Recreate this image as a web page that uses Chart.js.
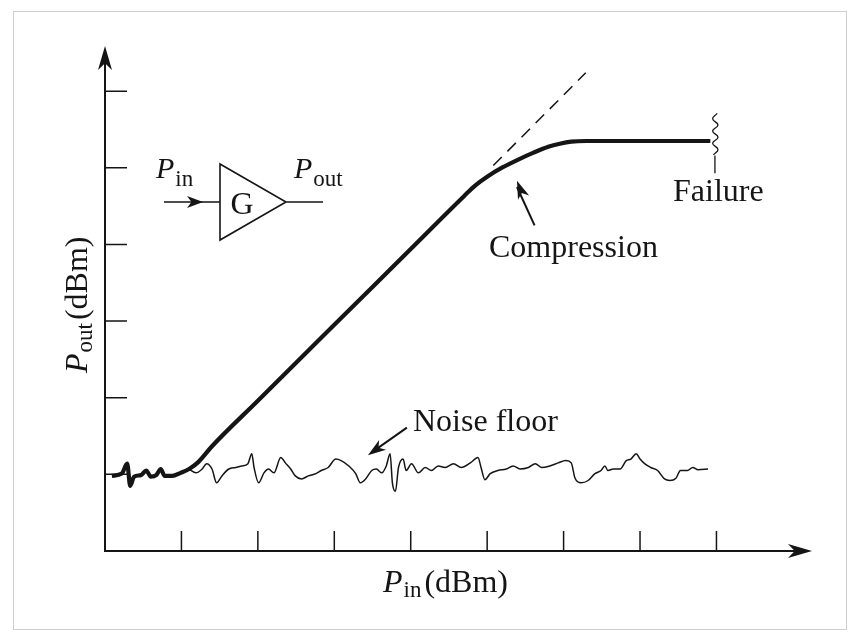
<!DOCTYPE html>
<html>
<head>
<meta charset="utf-8">
<script src="https://cdn.jsdelivr.net/npm/chart.js@4.4.1/dist/chart.umd.min.js"></script>
<style>
  html, body { margin: 0; padding: 0; background: #fff; }
  #wrap { width: 857px; height: 642px; }
</style>
</head>
<body>
<div id="wrap"><canvas id="c"></canvas></div>
<script>
// tick positions (no labels in the original)
const xTicks = [10, 20, 30, 40, 50, 60, 70, 80];
const yTicks = [10, 20, 30, 40, 50, 60];

// Pout vs Pin, thick curve
const outX = [0.9, 2.2, 2.9, 3.3, 3.8, 4.7, 5.4, 6.0, 6.7, 7.3, 7.8, 8.8, 9.9, 11.0,
  12.2, 14, 20, 30, 40, 47, 48.5, 50, 52, 54, 56, 58, 59.5, 61, 63, 79.2];
const outY = [9.8, 10.1, 11.4, 8.5, 9.7, 9.9, 10.5, 9.7, 9.9, 10.7, 9.8, 9.8, 10.2, 10.7,
  11.6, 13.67, 19.61, 29.51, 39.41, 46.34, 47.75, 48.85, 50.05, 51.05, 51.95, 52.75, 53.15, 53.42, 53.5, 53.5];

// linear extension (dashed)
const linX = [50.8, 62.9];
const linY = [50.3, 62.4];

// noise floor
const noiseX = [11.0, 11.9, 12.7, 13.3, 14.0, 14.6, 15.3, 16.2, 17.1, 17.9, 18.7, 19.2, 19.5, 20.1,
  20.8, 21.4, 22.1, 23.0, 23.6, 24.3, 24.9, 25.7, 26.6, 27.6, 28.3, 29.2, 30.2, 30.9, 31.9, 32.8,
  33.4, 34.1, 34.9, 35.5, 36.2, 36.8, 37.3, 37.6, 38.0, 38.4, 39.0, 39.4, 40.1, 41.0, 41.9, 42.7,
  43.6, 44.5, 45.6, 46.6, 47.8, 48.8, 49.2, 49.7, 50.4, 51.4, 52.5, 53.4, 54.3, 55.4, 56.3, 57.1,
  58.2, 59.3, 60.3, 61.0, 61.5, 62.3, 63.2, 64.1, 64.9, 65.4, 65.8, 66.5, 67.4, 68.2, 68.8, 69.5,
  70.0, 70.6, 71.4, 72.3, 73.2, 73.9, 74.7, 75.3, 76.2, 76.9, 77.6, 78.9];
const noiseY = [10.7, 10.2, 10.7, 11.4, 10.7, 8.9, 9.8, 10.7, 10.9, 11.1, 11.4, 12.7, 10.9, 8.9,
  10.2, 10.7, 10.2, 12.2, 11.5, 10.7, 9.8, 9.4, 9.8, 10.1, 10.5, 10.9, 12.0, 11.8, 11.1, 10.1,
  8.9, 9.4, 10.5, 10.7, 10.2, 11.1, 12.7, 8.9, 7.8, 10.9, 12.0, 10.5, 11.4, 10.2, 10.9, 10.5,
  11.1, 10.9, 11.4, 10.9, 11.5, 12.2, 10.9, 9.3, 10.1, 10.5, 10.7, 11.1, 10.7, 10.9, 11.4, 10.9,
  11.1, 11.5, 11.8, 11.5, 9.5, 8.9, 9.2, 10.1, 10.5, 11.1, 10.5, 10.7, 10.7, 11.8, 12.0, 12.7,
  12.0, 11.4, 10.9, 10.5, 9.4, 9.2, 9.5, 10.5, 10.5, 10.9, 10.6, 10.7];

// failure squiggle
const failX = [80.1, 79.5, 80.2, 79.5, 80.2, 79.5, 80.2, 79.6];
const failY = [57.1, 56.4, 55.6, 54.8, 54.0, 53.2, 52.4, 51.7];

const pts = (xs, ys) => xs.map((x, i) => ({ x: x, y: ys[i] }));
const INK = '#151515';
const SERIF = '"Liberation Serif", "DejaVu Serif", serif';

function arrowHead(ctx, x1, y1, x2, y2, len, half) {
  const a = Math.atan2(y2 - y1, x2 - x1);
  ctx.save();
  ctx.translate(x2, y2);
  ctx.rotate(a);
  ctx.beginPath();
  ctx.moveTo(0, 0);
  ctx.lineTo(-len, -half);
  ctx.lineTo(-len * 0.72, 0);
  ctx.lineTo(-len, half);
  ctx.closePath();
  ctx.fill();
  ctx.restore();
}

function subText(ctx, x, y, main, sub, size, subSize, drop) {
  ctx.font = 'italic ' + size + 'px ' + SERIF;
  ctx.fillText(main, x, y);
  const w = ctx.measureText(main).width;
  ctx.font = subSize + 'px ' + SERIF;
  ctx.fillText(sub, x + w + 1, y + drop);
  return x + w + 1 + ctx.measureText(sub).width;
}

const decor = {
  id: 'decor',
  beforeDraw(chart) {
    const ctx = chart.ctx;
    ctx.save();
    ctx.fillStyle = '#fff';
    ctx.fillRect(0, 0, chart.width, chart.height);
    ctx.strokeStyle = '#cfcfcf';
    ctx.lineWidth = 1;
    ctx.strokeRect(13.5, 11.5, 833, 618);
    ctx.restore();
  },
  afterDatasetsDraw(chart) {
    const ctx = chart.ctx;
    const xs = chart.scales.x, ys = chart.scales.y;
    const a = chart.chartArea;
    const px = v => xs.getPixelForValue(v);
    const py = v => ys.getPixelForValue(v);
    ctx.save();
    ctx.strokeStyle = INK;
    ctx.fillStyle = INK;

    // axes
    ctx.lineWidth = 2;
    ctx.beginPath();
    ctx.moveTo(a.left, a.top + 10);
    ctx.lineTo(a.left, a.bottom);
    ctx.lineTo(a.right - 10, a.bottom);
    ctx.stroke();
    arrowHead(ctx, a.left, a.bottom, a.left, a.top, 24, 7);
    arrowHead(ctx, a.left, a.bottom, a.right, a.bottom, 24, 7);

    // ticks
    ctx.lineWidth = 1.5;
    ctx.beginPath();
    xTicks.forEach(t => { ctx.moveTo(px(t), a.bottom); ctx.lineTo(px(t), a.bottom - 20); });
    yTicks.forEach(t => { ctx.moveTo(a.left, py(t)); ctx.lineTo(a.left + 22, py(t)); });
    ctx.stroke();

    ctx.textBaseline = 'alphabetic';
    ctx.textAlign = 'left';

    // axis titles
    let e = subText(ctx, 383, 592, 'P', 'in', 32, 23, 5);
    ctx.font = '32px ' + SERIF;
    ctx.fillText('(dBm)', e + 3, 592);
    ctx.save();
    ctx.translate(87, 373);
    ctx.rotate(-Math.PI / 2);
    e = subText(ctx, 0, 0, 'P', 'out', 32, 23, 5);
    ctx.font = '32px ' + SERIF;
    ctx.fillText('(dBm)', e + 3, 0);
    ctx.restore();

    // amplifier symbol
    ctx.lineWidth = 1.6;
    ctx.beginPath();
    ctx.moveTo(220, 164);
    ctx.lineTo(286, 202);
    ctx.lineTo(220, 240);
    ctx.closePath();
    ctx.moveTo(164, 202);
    ctx.lineTo(220, 202);
    ctx.moveTo(286, 202);
    ctx.lineTo(323, 202);
    ctx.stroke();
    arrowHead(ctx, 164, 202, 203, 202, 16, 6);
    ctx.font = '32px ' + SERIF;
    ctx.textAlign = 'center';
    ctx.fillText('G', 242, 214);
    ctx.textAlign = 'left';
    subText(ctx, 156, 178, 'P', 'in', 30, 23, 8);
    subText(ctx, 294, 178, 'P', 'out', 30, 23, 8);

    // noise floor label
    ctx.font = '32px ' + SERIF;
    ctx.fillText('Noise floor', 413, 431);
    ctx.lineWidth = 2;
    ctx.beginPath();
    ctx.moveTo(px(39.5), py(16.1));
    ctx.lineTo(px(35.5), py(13.3));
    ctx.stroke();
    arrowHead(ctx, px(39.5), py(16.1), px(34.4), py(12.5), 18, 6);

    // compression label
    ctx.fillText('Compression', 489, 257);
    ctx.beginPath();
    ctx.moveTo(px(56.2), py(42.5));
    ctx.lineTo(px(53.9), py(47.5));
    ctx.stroke();
    arrowHead(ctx, px(56.2), py(42.5), px(53.9), py(48.3), 18, 6);

    // failure label
    ctx.fillText('Failure', 673, 201);
    ctx.lineWidth = 1.3;
    ctx.beginPath();
    ctx.moveTo(px(79.8), py(51.6));
    ctx.lineTo(px(79.8), py(49.3));
    ctx.stroke();
    ctx.restore();
  }
};

new Chart(document.getElementById('c'), {
  type: 'scatter',
  data: {
    datasets: [
      {
        data: pts(noiseX, noiseY),
        showLine: true,
        borderColor: INK,
        borderWidth: 1.5,
        cubicInterpolationMode: 'monotone',
        pointRadius: 0,
      },
      {
        data: pts(linX, linY),
        showLine: true,
        borderColor: INK,
        borderWidth: 1.5,
        borderDash: [12, 8],
        pointRadius: 0,
      },
      {
        data: pts(outX, outY),
        showLine: true,
        borderColor: INK,
        borderWidth: 4.2,
        cubicInterpolationMode: 'monotone',
        pointRadius: 0,
      },
      {
        data: pts(failX, failY),
        showLine: true,
        borderColor: INK,
        borderWidth: 1.3,
        tension: 0.45,
        pointRadius: 0,
      },
    ],
  },
  options: {
    responsive: true,
    maintainAspectRatio: false,
    animation: false,
    layout: { padding: { left: 105, right: 45, top: 46, bottom: 91 } },
    plugins: { legend: { display: false }, tooltip: { enabled: false } },
    scales: {
      x: { type: 'linear', min: 0, max: 92.5, display: false },
      y: { type: 'linear', min: 0, max: 65.9, display: false },
    },
  },
  plugins: [decor],
});
</script>
</body>
</html>
